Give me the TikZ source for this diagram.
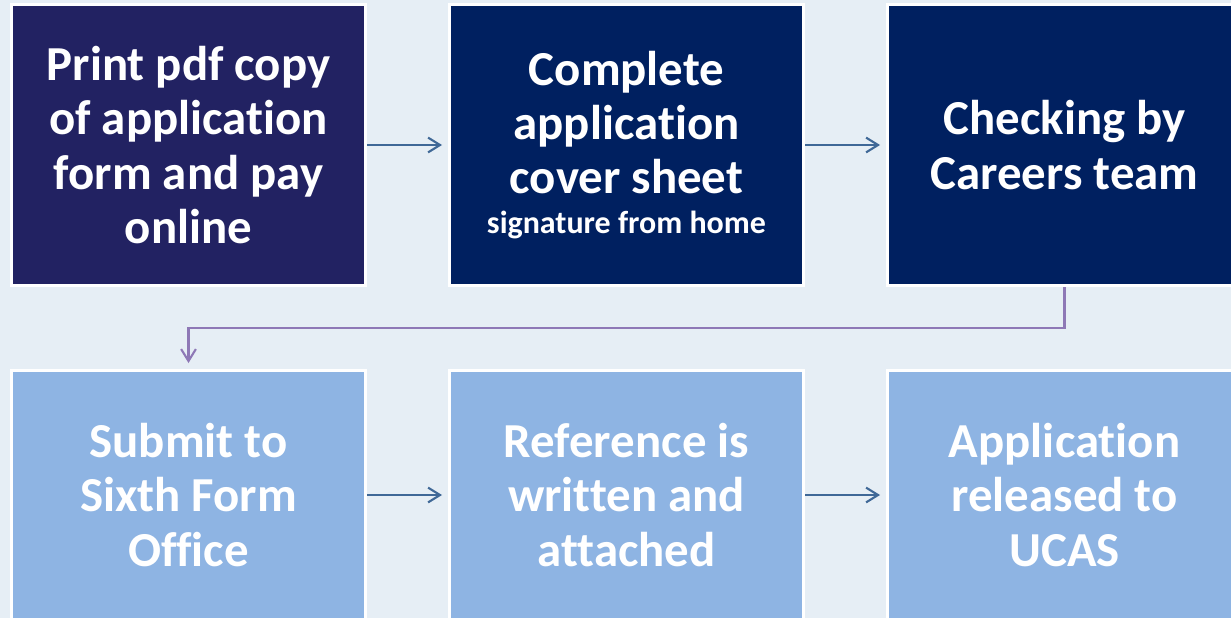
\documentclass[tikz,border=0pt]{standalone}
\usepackage{fontspec}
\setmainfont{Carlito}[Ligatures=NoCommon]
\usetikzlibrary{arrows.meta,positioning}

\definecolor{bgblue}{HTML}{E6EEF5}
\definecolor{stepnavy}{HTML}{222262}
\definecolor{stepdark}{HTML}{002060}
\definecolor{steplight}{HTML}{8EB4E3}
\definecolor{arrowblue}{HTML}{3F6897}
\definecolor{elbowpurple}{HTML}{8E78B6}

\begin{document}
\begin{tikzpicture}[
    stepbox/.style={draw=white, line width=0.74pt, inner sep=0pt, minimum width=3.544cm,
        align=center, text=white, font=\bfseries\fontsize{13.9}{15.5}\selectfont},
    toprow/.style={stepbox, minimum height=2.814cm},
    bottomrow/.style={stepbox, fill=steplight, minimum height=2.494cm},
    flow/.style={-{Straight Barb[length=3.4pt,width=4.2pt]}, draw=arrowblue, line width=0.6pt,
        shorten >=1.7pt},
    elbow/.style={-{Straight Barb[length=3.4pt,width=4.2pt]}, draw=elbowpurple, line width=0.6pt,
        shorten >=1.7pt}
]
    % Canvas
    \fill[bgblue] (0,0) rectangle (12.31,-6.18);
    \clip (0,0) rectangle (12.31,-6.18);

    % Top row
    \node[toprow, fill=stepnavy] (print) at (1.885,-1.45) {Print pdf copy\\of application\\form and pay\\online};
    \node[toprow, fill=stepdark] (cover) at (6.265,-1.45) {Complete\\application\\cover sheet\\[-0.3em]{\fontsize{9.1}{11}\selectfont signature from home}};
    \node[toprow, fill=stepdark] (careers) at (10.645,-1.45) {Checking by\\Careers team};

    % Bottom row
    \node[bottomrow] (submit) at (1.885,-4.95) {Submit to\\Sixth Form\\Office};
    \node[bottomrow] (reference) at (6.265,-4.95) {Reference is\\written and\\attached};
    \node[bottomrow] (ucas) at (10.645,-4.95) {Application\\released to\\UCAS};

    % Connectors
    \draw[flow] (print) -- (cover);
    \draw[flow] (cover) -- (careers);
    \draw[elbow] (careers.south) -- ++(0,-0.41) -| (submit.north);
    \draw[flow] (submit) -- (reference);
    \draw[flow] (reference) -- (ucas);
\end{tikzpicture}
\end{document}
